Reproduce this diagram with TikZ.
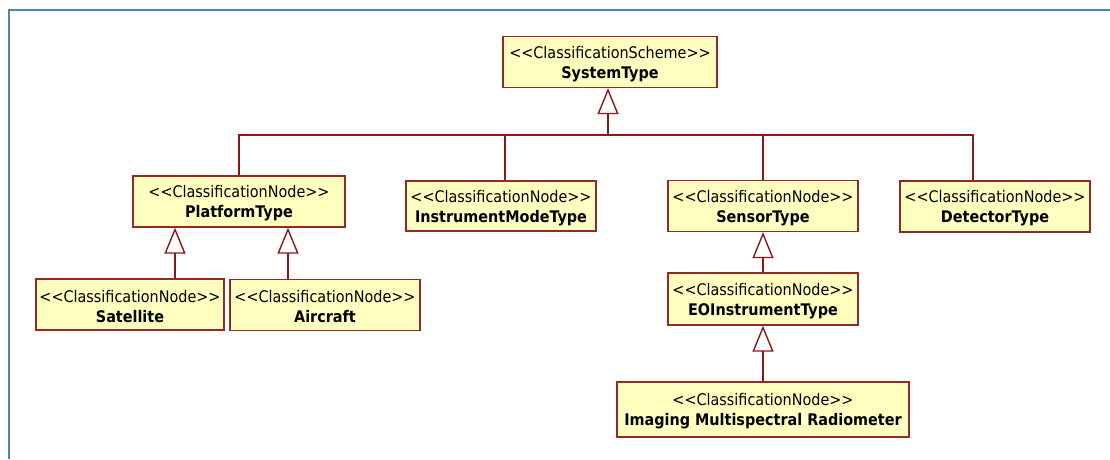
\documentclass[tikz,border=0pt]{standalone}
\usepackage{fontspec}
\setmainfont{DejaVu Sans Condensed}
\usetikzlibrary{arrows.meta}
\definecolor{umlline}{RGB}{139,24,24}
\definecolor{umlborder}{RGB}{150,40,40}
\definecolor{umlfill}{RGB}{255,255,192}
\definecolor{framecol}{RGB}{79,129,189}
\tikzset{
  cls/.style={draw=umlborder, fill=umlfill, line width=1.3pt, inner sep=0pt,
    align=center, font=\fontsize{16}{20}\selectfont, minimum height=51pt},
  conn/.style={draw=umlline, line width=1.4pt},
  gen/.style={conn, -{Triangle[open, length=26pt, width=21pt, line width=1.4pt]}}
}
\newcommand{\stereo}[2]{\rule{0pt}{16pt}<{}<#1>{}>\\\textbf{#2}}
\begin{document}
\begin{tikzpicture}[x=1pt,y=-1pt]
\useasboundingbox (0,0) rectangle (1110,459);
\draw[framecol, line width=2pt] (8.5,459) -- (8.5,9.5) -- (1110,9.5);

\node[cls, minimum width=214pt] (sys) at (610,62) {\stereo{ClassificationScheme}{SystemType}};
\node[cls, minimum width=212pt] (plat) at (239,201.5) {\stereo{ClassificationNode}{PlatformType}};
\node[cls, minimum width=188pt] (sat) at (130,304.5) {\stereo{ClassificationNode}{Satellite}};
\node[cls, minimum width=190pt] (air) at (325,305) {\stereo{ClassificationNode}{Aircraft}};
\node[cls, minimum width=190pt, minimum height=50pt] (imt) at (501,206) {\stereo{ClassificationNode}{InstrumentModeType}};
\node[cls, minimum width=190pt] (sen) at (763,206) {\stereo{ClassificationNode}{SensorType}};
\node[cls, minimum width=190pt, minimum height=52pt] (eoi) at (763,299) {\stereo{ClassificationNode}{EOInstrumentType}};
\node[cls, minimum width=292pt, minimum height=55pt] (img) at (763,409.5) {\stereo{ClassificationNode}{Imaging Multispectral Radiometer}};
\node[cls, minimum width=190pt] (det) at (995,206.5) {\stereo{ClassificationNode}{DetectorType}};

\coordinate (bus) at (608,135);
\draw[conn] (plat.north) |- (bus);
\draw[conn] ([xshift=4pt]imt.north) |- (bus);
\draw[conn] (sen.north) |- (bus);
\draw[conn] ([xshift=-22pt]det.north) |- (bus);
\draw[gen] (bus) -- (bus |- sys.south);

\draw[gen] ([xshift=45pt]sat.north) -- ([xshift=45pt]sat.north |- plat.south);
\draw[gen] ([xshift=-37pt]air.north) -- ([xshift=-37pt]air.north |- plat.south);
\draw[gen] (eoi.north) -- (sen.south);
\draw[gen] (img.north) -- (eoi.south);
\end{tikzpicture}
\end{document}
